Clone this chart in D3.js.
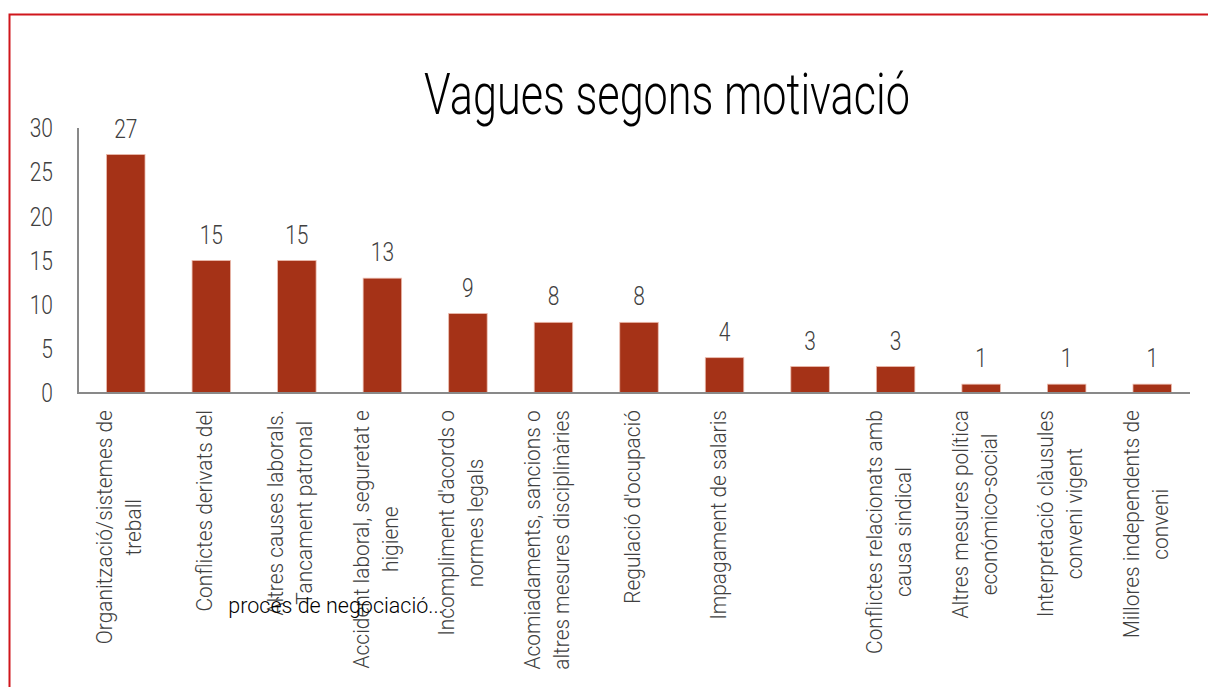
<!DOCTYPE html>
<html>
<head>
<meta charset="utf-8">
<script src="https://cdn.jsdelivr.net/npm/d3@7"></script>
<style>
  html, body { margin: 0; padding: 0; background: #ffffff; }
  svg { display: block; }
  text { font-family: Roboto, "Noto Sans", sans-serif; font-weight: 300; }
</style>
</head>
<body>
<svg id="chart" width="1208" height="687"></svg>
<script>
// Strikes by motive: category labels ("\n" marks a line break) and counts
const categories = [
  "Organització/sistemes de\ntreball",
  "Conflictes derivats del",
  "Altres causes laborals.\nTancament patronal",
  "Accident laboral, seguretat e\nhigiene",
  "Incompliment d'acords o\nnormes legals",
  "Acomiadaments, sancions o\naltres mesures disciplinàries",
  "Regulació d'ocupació",
  "Impagament de salaris",
  "",
  "Conflictes relacionats amb\ncausa sindical",
  "Altres mesures política\neconómico-social",
  "Interpretació clàusules\nconveni vigent",
  "Millores independents de\nconveni"
];
const values = [27, 15, 15, 13, 9, 8, 8, 4, 3, 3, 1, 1, 1];
const yTicks = [0, 5, 10, 15, 20, 25, 30];
const chartTitle = "Vagues segons motivació";
// continuation of the second category label, spilled out horizontally
const spillText = "procés de negociació...";

const svg = d3.select("#chart");
const W = 1208, H = 687;

const axisColor = "#898989";
const barColor = "#a53217";
const textColor = "#404040";

// outer frame (only the top and left edges fall inside the view)
svg.append("rect")
  .attr("x", 9.5).attr("y", 14.5)
  .attr("width", W + 40).attr("height", H + 40)
  .attr("fill", "none")
  .attr("stroke", "#d0161c")
  .attr("stroke-width", 2);

const plot = { left: 78, right: 1190, top: 128, bottom: 393 };

const x = d3.scaleBand()
  .domain(d3.range(categories.length))
  .range([plot.left + 5, plot.right + 5])
  .paddingInner(0.55)
  .paddingOuter(0.275);

const y = d3.scaleLinear()
  .domain([0, 30])
  .range([plot.bottom, plot.top]);

// title
const titleSx = 0.745;
svg.append("g")
  .attr("transform", `translate(667,114)`)
  .append("text")
  .attr("transform", `scale(${titleSx},1)`)
  .attr("text-anchor", "middle")
  .attr("font-size", 58)
  .attr("fill", "#000")
  .text(chartTitle);

// y axis
const tickSx = 0.84;
const yAxis = svg.append("g")
  .attr("transform", `translate(${plot.left},0)`)
  .call(d3.axisLeft(y).tickValues(yTicks).tickSize(0).tickPadding(0));
yAxis.select(".domain").remove();
yAxis.selectAll(".tick text")
  .attr("x", 0)
  .attr("dy", "0.35em")
  .attr("transform", `translate(-25,0) scale(${tickSx},1)`)
  .attr("font-size", 25)
  .attr("font-family", "Roboto, sans-serif")
  .attr("font-weight", 300)
  .attr("fill", textColor);

// bars
svg.append("g")
  .selectAll("rect")
  .data(values)
  .join("rect")
  .attr("x", (d, i) => x(i))
  .attr("y", d => y(d))
  .attr("width", x.bandwidth())
  .attr("height", d => y(0) - y(d))
  .attr("fill", barColor)
  .attr("stroke", "#ecbcae")
  .attr("stroke-width", 0.8);

// value labels
svg.append("g")
  .selectAll("g")
  .data(values)
  .join("g")
  .attr("transform", (d, i) => `translate(${x(i) + x.bandwidth() / 2},${y(d) - 17})`)
  .append("text")
  .attr("transform", `scale(${tickSx},1)`)
  .attr("text-anchor", "middle")
  .attr("font-size", 25)
  .attr("fill", textColor)
  .text(d => d);

// axis lines
svg.append("line")
  .attr("x1", plot.left).attr("x2", plot.left)
  .attr("y1", plot.top).attr("y2", plot.bottom + 1)
  .attr("stroke", axisColor).attr("stroke-width", 2);

// x axis with rotated, wrapped category labels
const labelSx = 0.95;
const labelSize = 22;
const lineGap = 29;
const xAxis = svg.append("g")
  .attr("transform", `translate(0,${plot.bottom})`)
  .call(d3.axisBottom(x).tickSize(0).tickFormat(() => ""));
xAxis.select(".domain").remove();
svg.append("line")
  .attr("x1", plot.left).attr("x2", plot.right)
  .attr("y1", plot.bottom).attr("y2", plot.bottom)
  .attr("stroke", axisColor).attr("stroke-width", 2);

xAxis.selectAll(".tick").each(function (i) {
  const lines = categories[i] ? categories[i].split("\n") : [];
  if (!lines.length) return;
  const g = d3.select(this).append("g")
    .attr("transform", `translate(0,17) rotate(-90)`);
  const texts = lines.map((ln, k) =>
    g.append("text")
      .attr("font-size", labelSize)
      .attr("fill", textColor)
      .attr("text-anchor", "middle")
      .text(ln));
  const maxLen = d3.max(texts, t => t.node().getComputedTextLength()) * labelSx;
  texts.forEach((t, k) => {
    const off = (k - (lines.length - 1) / 2) * lineGap + 1;
    t.attr("transform", `translate(${-maxLen / 2},${off}) scale(${labelSx},1)`);
  });
});

// spilled continuation of the second label
svg.append("text")
  .attr("x", x(1) + x.bandwidth() / 2 + 17)
  .attr("y", 613)
  .attr("font-family", "'Open Sans', 'Noto Sans', sans-serif")
  .attr("font-weight", 400)
  .attr("font-size", 21.5)
  .attr("fill", "#000")
  .text(spillText);
</script>
</body>
</html>
